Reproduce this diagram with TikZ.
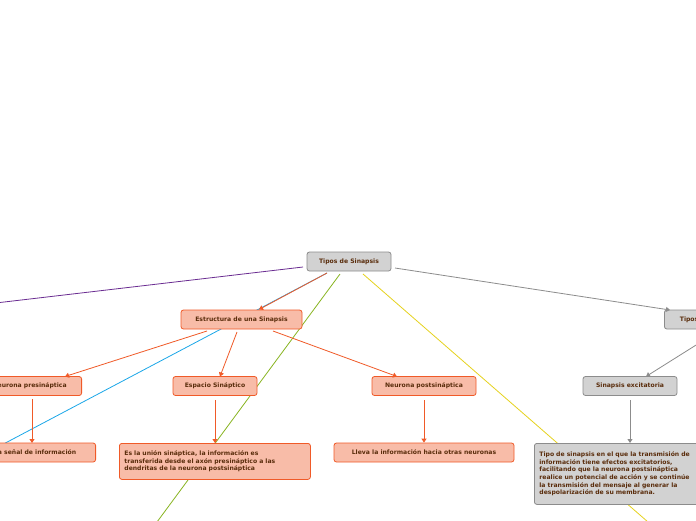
\documentclass[tikz,border=0pt]{standalone}
\usepackage{fontspec}
\setmainfont{DejaVu Sans}
\usetikzlibrary{arrows.meta}
\definecolor{ofill}{HTML}{F8BCA8}
\definecolor{oline}{HTML}{F05A28}
\definecolor{gfill}{HTML}{D2D2D2}
\definecolor{gline}{HTML}{8C8C8C}
\definecolor{txt}{HTML}{5A2D0C}
\definecolor{purp}{HTML}{6A2C91}
\definecolor{blu}{HTML}{1AA7E8}
\definecolor{grn}{HTML}{88B521}
\definecolor{yel}{HTML}{E6D21E}
\begin{document}
\begin{tikzpicture}[x=1pt,y=-1pt,
  box/.style={rounded corners=2.5pt,line width=0.8pt,font=\fontsize{6.1}{7.6}\selectfont\bfseries,text=txt,inner xsep=5pt,inner ysep=0pt,minimum height=19pt},
  obox/.style={box,draw=oline,fill=ofill},
  gbox/.style={box,draw=gline,fill=gfill},
  tip/.style={-{Triangle[length=4pt,width=5pt]}},
  oar/.style={tip,draw=oline,line width=0.8pt},
  gar/.style={tip,draw=gline,line width=0.8pt}]
\useasboundingbox (0,0) rectangle (696,520);
\fill[white] (0,0) rectangle (696,520);
% long lines behind
\coordinate (pe) at (-30,306);
\coordinate (be) at (-40,467);
\coordinate (ge) at (157,522);
\coordinate (ye) at (648,522);
\coordinate (re) at (720,330);
\draw[purp,line width=0.8pt] (303,267) -- (pe);
\draw[blu,line width=0.8pt] (327,273) -- (be);
\draw[grn,line width=0.8pt] (340,274) -- (ge);
\draw[yel,line width=0.8pt] (363,274) -- (ye);
% nodes
\node[gbox,minimum width=84pt] (root) at (349,261.5) {Tipos de Sinapsis};
\node[obox,minimum width=121pt] (est) at (241.5,319.5) {Estructura de una Sinapsis};
\node[obox,anchor=east,minimum width=104pt] (pre) at (82,386) {Neurona presináptica};
\node[obox,minimum width=84pt] (esp) at (215,386) {Espacio Sináptico};
\node[obox,minimum width=104pt] (post) at (424,386) {Neurona postsináptica};
\node[obox,anchor=east,minimum width=140pt] (sen) at (96,452.5) {Envía la señal de información};
\node[obox,anchor=north west,text width=181pt,minimum height=36pt,align=left,inner ysep=4pt] (union) at (119,443) {Es la unión sináptica, la información es\\transferida desde el axón presináptico a las\\dendritas de la neurona postsináptica};
\node[obox,minimum width=180pt] (lleva) at (424,452.5) {Lleva la información hacia otras neuronas};
\node[gbox,anchor=west,minimum width=90pt] (tip2) at (664,319.5) {Tipos de sinapsis};
\node[gbox,minimum width=94pt] (exc) at (630,386) {Sinapsis excitatoria};
\node[gbox,anchor=north west,text width=170pt,minimum height=61pt,align=left,inner ysep=4pt] (desc) at (534,443) {Tipo de sinapsis en el que la transmisión de\\información tiene efectos excitatorios,\\facilitando que la neurona postsináptica\\realice un potencial de acción y se continúe\\la transmisión del mensaje al generar la\\despolarización de su membrana.};
% arrows
\draw[oar] (327,273) -- (259,309.5);
\draw[oar] (207,331) -- (65,376.5);
\draw[oar] (237,332) -- (220,376.5);
\draw[oar] (273,331) -- (397,376.5);
\draw[oar] (32,399) -- (32,443);
\draw[oar] (215,400) -- (union.north -| esp);
\draw[oar] (424,400) -- (lleva.north);
\draw[gar] (395,268) -- (670,310);
\draw[gar] (re) -- (646,376.5);
\draw[gar] (630,400) -- (630,443);
\end{tikzpicture}
\end{document}
